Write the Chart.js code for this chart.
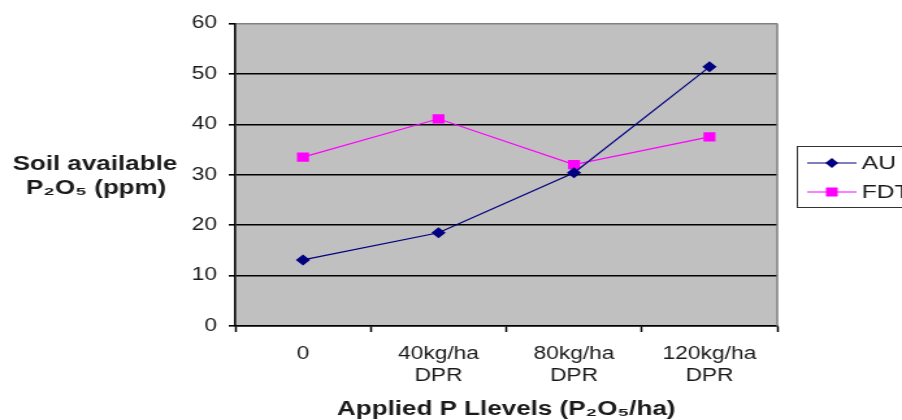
<!DOCTYPE html>
<html>
<head>
<meta charset="utf-8">
<script src="https://cdn.jsdelivr.net/npm/chart.js@4.4.0/dist/chart.umd.min.js"></script>
<style>
  html, body { margin: 0; padding: 0; background: #fff; overflow: hidden; }
  /* the original picture is stretched sideways, so the chart is drawn narrow and widened */
  #wrap { width: 694px; height: 420px; transform: scaleX(1.2997); transform-origin: 0 0; }
</style>
</head>
<body>
<div id="wrap"><canvas id="chart" width="694" height="420"></canvas></div>
<script>
'use strict';

// ***** DATA *****
const categories = [['0'], ['40kg/ha', 'DPR'], ['80kg/ha', 'DPR'], ['120kg/ha', 'DPR']];
const auValues = [13.1, 18.5, 30.4, 51.4];
const fdtValues = [33.5, 41.1, 32.0, 37.5];
const seriesNames = ['AU', 'FDT'];
const yTicks = [0, 10, 20, 30, 40, 50, 60];
const yTitle = ['Soil available', 'P₂O₅ (ppm)'];
const xTitle = 'Applied P Llevels (P₂O₅/ha)';

// ***** STYLE *****
const FONT = '"Liberation Sans", Arial, sans-serif';
const TEXT = '#1a1a1a';
const AU_COLOR = '#000080';
const FDT_COLOR = '#ff00ff';

// ***** HELPERS *****
function diamond(ctx, x, y, r) {
  ctx.beginPath();
  ctx.moveTo(x, y - r);
  ctx.lineTo(x + r, y);
  ctx.lineTo(x, y + r);
  ctx.lineTo(x - r, y);
  ctx.closePath();
  ctx.fill();
}

function square(ctx, x, y, s) {
  ctx.fillRect(x - s / 2, y - s / 2, s, s);
}

// plot background, right border, titles and legend
const chartDecor = {
  id: 'chartDecor',
  beforeDraw(chart) {
    const ctx = chart.ctx;
    const a = chart.chartArea;
    ctx.save();
    ctx.fillStyle = '#c0c0c0';
    ctx.fillRect(a.left, a.top, a.right - a.left, a.bottom - a.top);
    ctx.restore();
  },
  afterDraw(chart) {
    const ctx = chart.ctx;
    const a = chart.chartArea;
    ctx.save();

    ctx.strokeStyle = '#808080';
    ctx.lineWidth = 1.5;
    ctx.beginPath();
    ctx.moveTo(a.right, a.top);
    ctx.lineTo(a.right, a.bottom);
    ctx.stroke();

    ctx.fillStyle = TEXT;
    ctx.font = 'bold 20px ' + FONT;
    ctx.textAlign = 'center';
    ctx.textBaseline = 'middle';
    ctx.fillText(yTitle[0], 73, 164);
    ctx.fillText(yTitle[1], 74, 188);
    ctx.fillText(xTitle, (a.left + a.right) / 2, 409);

    // legend box (runs off the right edge like the original)
    ctx.strokeStyle = '#333';
    ctx.lineWidth = 1;
    ctx.strokeRect(613.5, 146.5, 120, 61);

    const rows = [163, 192];
    const colors = [AU_COLOR, FDT_COLOR];
    ctx.font = '19px ' + FONT;
    ctx.textAlign = 'left';
    for (let i = 0; i < seriesNames.length; i++) {
      ctx.strokeStyle = colors[i];
      ctx.fillStyle = colors[i];
      ctx.lineWidth = 1.2;
      ctx.beginPath();
      ctx.moveTo(621, rows[i]);
      ctx.lineTo(659, rows[i]);
      ctx.stroke();
      if (i === 0) {
        diamond(ctx, 640, rows[i], 5);
      } else {
        square(ctx, 640, rows[i], 9);
      }
      ctx.fillStyle = TEXT;
      ctx.fillText(seriesNames[i], 663, rows[i] + 1);
    }
    ctx.restore();
  }
};

// ***** CHART *****
let ctx = document.getElementById('chart').getContext('2d');

new Chart(ctx, {
  type: 'line',
  data: {
    labels: categories,
    datasets: [
      {
        label: seriesNames[0],
        data: auValues,
        borderColor: AU_COLOR,
        backgroundColor: AU_COLOR,
        borderWidth: 1.2,
        pointStyle: 'rectRot',
        pointRadius: 5.5,
        pointBorderWidth: 0,
        tension: 0,
        fill: false
      },
      {
        label: seriesNames[1],
        data: fdtValues,
        borderColor: FDT_COLOR,
        backgroundColor: FDT_COLOR,
        borderWidth: 1.2,
        pointStyle: 'rect',
        pointRadius: 6.5,
        pointBorderWidth: 0,
        tension: 0,
        fill: false
      }
    ]
  },
  options: {
    responsive: false,
    animation: false,
    layout: { padding: { left: 120, right: 96, top: 23.5, bottom: 34 } },
    plugins: {
      legend: { display: false },
      tooltip: { enabled: false }
    },
    scales: {
      x: {
        offset: true,
        grid: {
          offset: true,
          drawOnChartArea: false,
          drawTicks: true,
          tickLength: 6,
          tickColor: '#000',
          tickWidth: 1.5
        },
        border: { color: '#000', width: 1.5 },
        ticks: {
          color: TEXT,
          font: { family: FONT, size: 17.5, lineHeight: 1.25 },
          padding: 11,
          maxRotation: 0,
          autoSkip: false
        },
        afterFit(scale) { scale.height = 60; }
      },
      y: {
        min: 0,
        max: 60,
        afterBuildTicks(scale) { scale.ticks = yTicks.map(v => ({ value: v })); },
        grid: {
          color: c => (c.tick && c.tick.value === 60 ? '#808080' : '#000'),
          lineWidth: 1.6,
          tickColor: '#000',
          tickLength: 5
        },
        border: { color: '#000', width: 1.6 },
        ticks: {
          color: TEXT,
          font: { family: FONT, size: 17.5 },
          padding: 9
        },
        afterFit(scale) { scale.width = 61; }
      }
    }
  },
  plugins: [chartDecor]
});
</script>
</body>
</html>
